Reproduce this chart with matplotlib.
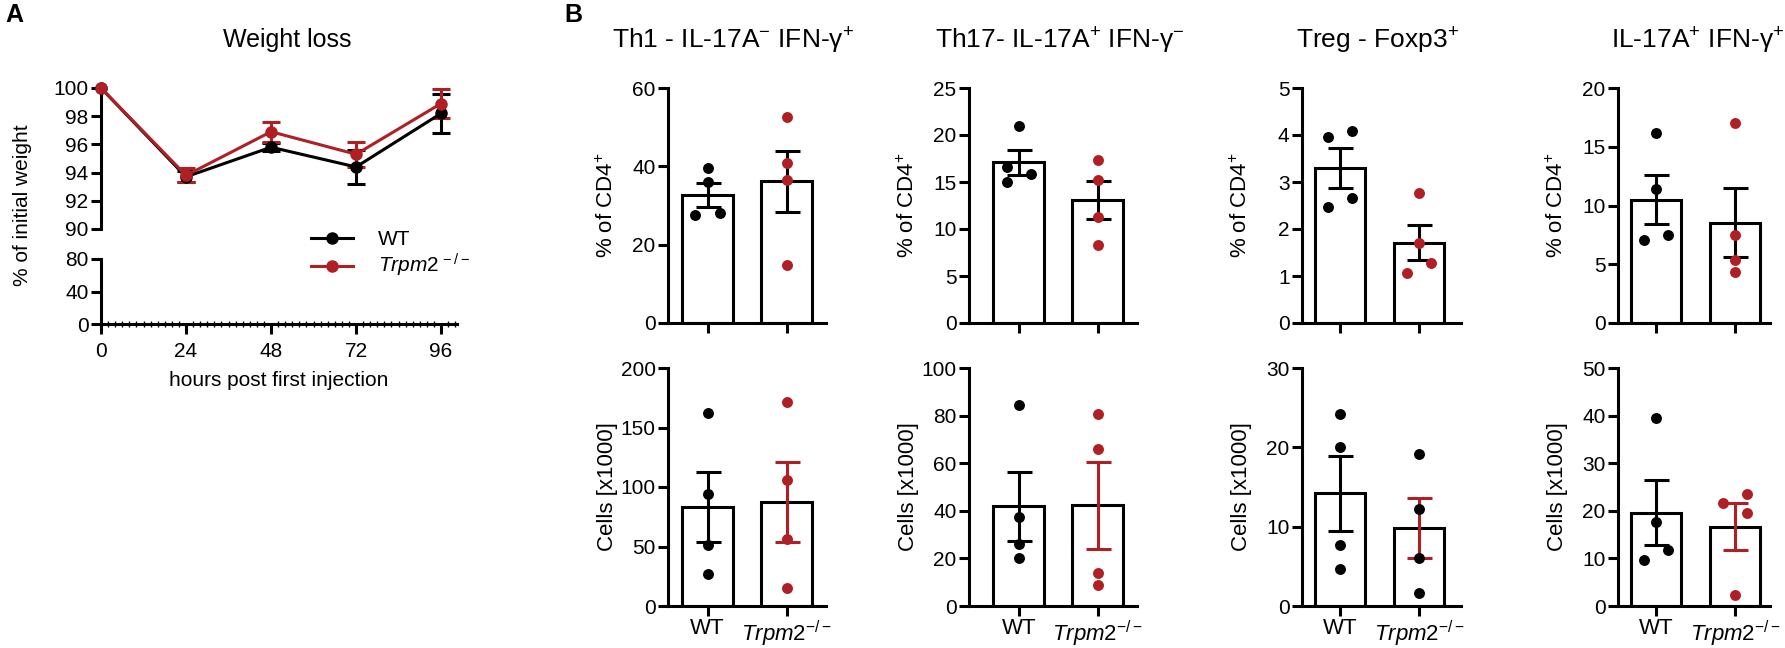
import numpy as np
import matplotlib
matplotlib.use("Agg")
import matplotlib.pyplot as plt

# panel A - weight loss
hours = [0, 24, 48, 72, 96]
wt_weight = [100, 93.7, 95.8, 94.4, 98.2]
wt_weight_sem = [0, 0.4, 0.3, 1.2, 1.4]
ko_weight = [100, 93.8, 96.9, 95.3, 98.9]
ko_weight_sem = [0, 0.5, 0.7, 0.9, 1.0]

# panel B
groups = ["WT", r"$\mathit{Trpm2}^{-/-}$"]
titles = [r"Th1 - IL-17A$^{-}$ IFN-γ$^{+}$",
          r"Th17- IL-17A$^{+}$ IFN-γ$^{-}$",
          r"Treg - Foxp3$^{+}$",
          r"IL-17A$^{+}$ IFN-γ$^{+}$"]

pct_wt_points = [[39.5, 36.0, 27.5, 28.0], [21.0, 16.6, 15.9, 15.0],
                 [4.09, 3.96, 2.65, 2.46], [16.2, 11.4, 7.5, 7.05]]
pct_ko_points = [[52.5, 40.8, 36.5, 14.8], [17.3, 15.2, 11.3, 8.3],
                 [2.76, 1.71, 1.27, 1.07], [17.0, 7.5, 5.4, 4.3]]
pct_wt_mean = [32.6, 17.1, 3.3, 10.5]
pct_wt_sem = [3.1, 1.35, 0.43, 2.1]
pct_ko_mean = [36.2, 13.1, 1.71, 8.55]
pct_ko_sem = [7.8, 2.0, 0.37, 2.95]
pct_ymax = [60, 25, 5, 20]
pct_ystep = [20, 5, 1, 5]

cells_wt_points = [[162.2, 94.4, 51.0, 27.2], [84.3, 37.4, 25.9, 20.3],
                   [24.2, 20.05, 7.74, 4.72], [39.6, 17.6, 11.7, 9.6]]
cells_ko_points = [[171.4, 106.2, 56.6, 15.5], [80.5, 66.1, 13.9, 8.7],
                   [19.1, 12.2, 6.0, 1.64], [23.5, 21.6, 19.5, 2.25]]
cells_wt_mean = [83.5, 42.0, 14.2, 19.6]
cells_wt_sem = [29.3, 14.5, 4.7, 6.8]
cells_ko_mean = [87.4, 42.3, 9.8, 16.7]
cells_ko_sem = [33.6, 18.2, 3.8, 4.9]
cells_ymax = [200, 100, 30, 50]
cells_ystep = [50, 20, 10, 10]

RED = "#B01F24"
BLACK = "black"

# dot spreading (in units of one dot width), kept apart from the values
jit_pct_wt = [[0, 0, -1, 1], [0, -1, 1, -1], [1, -1, 1, -1], [0, 0, 1, -1]]
jit_pct_ko = [[0, 0, 0, 0], [0, 0, 0, 0], [0, 0, 1, -1], [0, 0, 0, 0]]
jit_cells_wt = [[0, 0, 0, 0], [0, 0, 0, 0], [0, 0, 0, 0], [0, 0, 1, -1]]
jit_cells_ko = [[0, 0, 0, 0], [0, 0, 0, 0], [0, 0, 0, 0], [1, -1, 1, 0]]
ko_dot_color_cells = [RED, RED, BLACK, RED]

plt.rcParams["font.family"] = ["Liberation Sans", "DejaVu Sans"]
plt.rcParams["mathtext.fontset"] = "custom"
plt.rcParams["mathtext.rm"] = "Liberation Sans"
plt.rcParams["mathtext.it"] = "Liberation Sans:italic"
plt.rcParams["axes.linewidth"] = 2.2

W, H = 1785, 648
fig = plt.figure(figsize=(W / 100, H / 100), dpi=100)


def add_ax(left, top, width, height):
    return fig.add_axes([left / W, 1 - (top + height) / H, width / W, height / H])


def style(ax, size):
    for s in ["top", "right"]:
        ax.spines[s].set_visible(False)
    ax.tick_params(width=2.2, length=7, labelsize=size, pad=2)


# ---------------- panel A ----------------
ax_top = add_ax(101, 88, 356, 141)
ax_bot = add_ax(101, 259, 356, 65)
for ax in (ax_top, ax_bot):
    style(ax, 15)
    ax.set_xlim(0, 100.5)
ax_top.spines["bottom"].set_visible(False)
ax_top.set_ylim(90, 100)
ax_top.set_yticks(np.arange(90, 101, 2))
ax_top.set_xticks([])
ax_bot.set_ylim(0, 80)
ax_bot.set_yticks([0, 40, 80])
ax_bot.set_xticks(hours)
ax_bot.set_xticks(np.arange(0, 101, 2), minor=True)
ax_bot.tick_params(axis="x", which="major", pad=6)
ax_bot.tick_params(axis="x", which="minor", direction="inout", length=4, width=1)
ax_bot.set_xlabel("hours post first injection", fontsize=15, labelpad=7)

handles = []
for vals, sem, col, lab in [(wt_weight, wt_weight_sem, BLACK, "WT"),
                            (ko_weight, ko_weight_sem, RED, r"$\mathit{Trpm2}^{\,-/-}$")]:
    ax_top.errorbar(hours[1:], vals[1:], yerr=sem[1:], fmt="none", ecolor=col,
                    elinewidth=2.2, capsize=6.5, capthick=2.2, clip_on=False, zorder=3)
    ln, = ax_top.plot(hours, vals, color=col, lw=2.2, marker="o", ms=8,
                      clip_on=False, zorder=4, label=lab)
    handles.append(ln)

fig.legend(handles=handles, loc="upper left", bbox_to_anchor=(311 / W, 1 - 230 / H),
           frameon=False, fontsize=15, handlelength=2.0, handletextpad=1.2,
           labelspacing=0.15, borderpad=0, borderaxespad=0)

fig.text(287 / W, 1 - 40 / H, "Weight loss", fontsize=18, ha="center", va="center")
fig.text(23 / W, 1 - 205 / H, "% of initial weight", fontsize=15, rotation=90,
         ha="center", va="center")
fig.text(5 / W, 1 - 15 / H, "A", fontsize=18, fontweight="bold", ha="left", va="center")

# ---------------- panel B ----------------
col_left = [668, 969, 1302, 1618]
col_xlim = [(-0.5, 1.5), (-0.63, 1.5), (-0.48, 1.53), (-0.48, 1.45)]
title_x = [733, 1060, 1378, 1698]
unit = 79
bar_w = 0.64
jit = 0.155

fig.text(564 / W, 1 - 15 / H, "B", fontsize=18, fontweight="bold", ha="left", va="center")


def bar_panel(ax, width_px, pts_wt, pts_ko, m_wt, s_wt, m_ko, s_ko, j_wt, j_ko,
              ko_dot, ko_err, ymax, ystep, ylabel):
    ax.bar([0, 1], [m_wt, m_ko], width=bar_w, color="white", edgecolor="black",
           linewidth=2.2, zorder=2)
    ax.errorbar([0], [m_wt], yerr=[s_wt], fmt="none", ecolor=BLACK, elinewidth=2.2,
                capsize=9, capthick=2.2, zorder=3)
    ax.errorbar([1], [m_ko], yerr=[s_ko], fmt="none", ecolor=ko_err, elinewidth=2.2,
                capsize=9, capthick=2.2, zorder=3)
    ax.scatter(np.array(j_wt) * jit, pts_wt, s=62, color=BLACK, zorder=4,
               linewidths=0, clip_on=False)
    ax.scatter(1 + np.array(j_ko) * jit, pts_ko, s=62, color=ko_dot, zorder=4,
               linewidths=0, clip_on=False)
    ax.set_ylim(0, ymax)
    ax.set_yticks(np.arange(0, ymax + ystep / 2, ystep))
    ax.set_ylabel(ylabel, fontsize=16)
    ax.yaxis.set_label_coords(-50 / width_px, 0.5)


for i in range(4):
    xl = col_xlim[i]
    w = (xl[1] - xl[0]) * unit
    ax1 = add_ax(col_left[i], 88, w, 235)
    ax2 = add_ax(col_left[i], 368, w, 238)
    for ax in (ax1, ax2):
        style(ax, 15)
        ax.set_xlim(*xl)
        ax.set_xticks([0, 1])
    bar_panel(ax1, w, pct_wt_points[i], pct_ko_points[i], pct_wt_mean[i], pct_wt_sem[i],
              pct_ko_mean[i], pct_ko_sem[i], jit_pct_wt[i], jit_pct_ko[i],
              RED, BLACK, pct_ymax[i], pct_ystep[i], r"% of CD4$^{+}$")
    ax1.set_xticklabels([])
    bar_panel(ax2, w, cells_wt_points[i], cells_ko_points[i], cells_wt_mean[i], cells_wt_sem[i],
              cells_ko_mean[i], cells_ko_sem[i], jit_cells_wt[i], jit_cells_ko[i],
              ko_dot_color_cells[i], RED, cells_ymax[i], cells_ystep[i], "Cells [x1000]")
    ax2.set_xticklabels(groups, fontsize=16)
    fig.text(title_x[i] / W, 1 - 49 / H, titles[i], fontsize=19, ha="center", va="baseline")

fig.savefig("out.png", dpi=100)
